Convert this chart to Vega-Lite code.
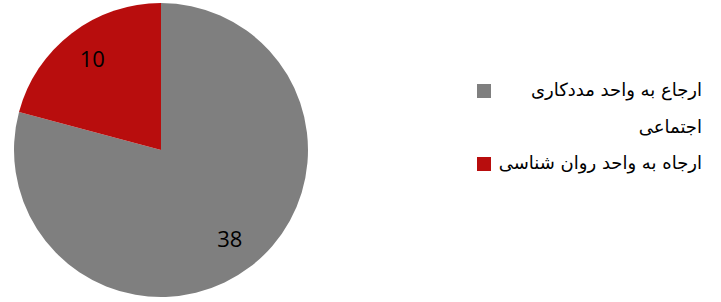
{
  "$schema": "https://vega.github.io/schema/vega-lite/v6.json",
  "width": 294,
  "height": 294,
  "autosize": {"type": "none"},
  "padding": {"left": 14, "top": 3, "right": 413, "bottom": 5},
  "background": "white",
  "view": {"stroke": null},
  "data": {
    "values": [
      {"category": "ارجاع به واحد مددکاری اجتماعی", "count": 38, "order": 1},
      {"category": "ارجاه به واحد روان شناسی", "count": 10, "order": 2}
    ]
  },
  "encoding": {
    "theta": {"field": "count", "type": "quantitative", "stack": true},
    "order": {"field": "order", "type": "quantitative"}
  },
  "layer": [
    {
      "mark": {"type": "arc", "outerRadius": 147},
      "encoding": {
        "color": {
          "field": "category",
          "type": "nominal",
          "sort": null,
          "scale": {
            "domain": ["ارجاع به واحد مددکاری اجتماعی", "ارجاه به واحد روان شناسی"],
            "range": ["#7f7f7f", "#b80d0d"]
          },
          "legend": {
            "orient": "none",
            "legendX": 461,
            "legendY": 79,
            "title": null,
            "symbolType": "square",
            "symbolSize": 196,
            "symbolStrokeWidth": 0,
            "symbolOpacity": 1,
            "labelFontSize": 18,
            "labelFont": "DejaVu Sans",
            "labelColor": "black",
            "labelAlign": "right",
            "labelOffset": 209,
            "labelLimit": 0,
            "rowPadding": 18,
            "labelExpr": "datum.label == 'ارجاع به واحد مددکاری اجتماعی' ? ['ارجاع به واحد مددکاری', 'اجتماعی'] : datum.label",
            "encode": {
              "labels": {"update": {"lineHeight": {"value": 37}}}
            }
          }
        }
      }
    },
    {
      "mark": {"type": "text", "radius": 113, "fontSize": 22, "font": "Open Sans", "color": "black"},
      "encoding": {
        "text": {"field": "count", "type": "quantitative"}
      }
    }
  ]
}
